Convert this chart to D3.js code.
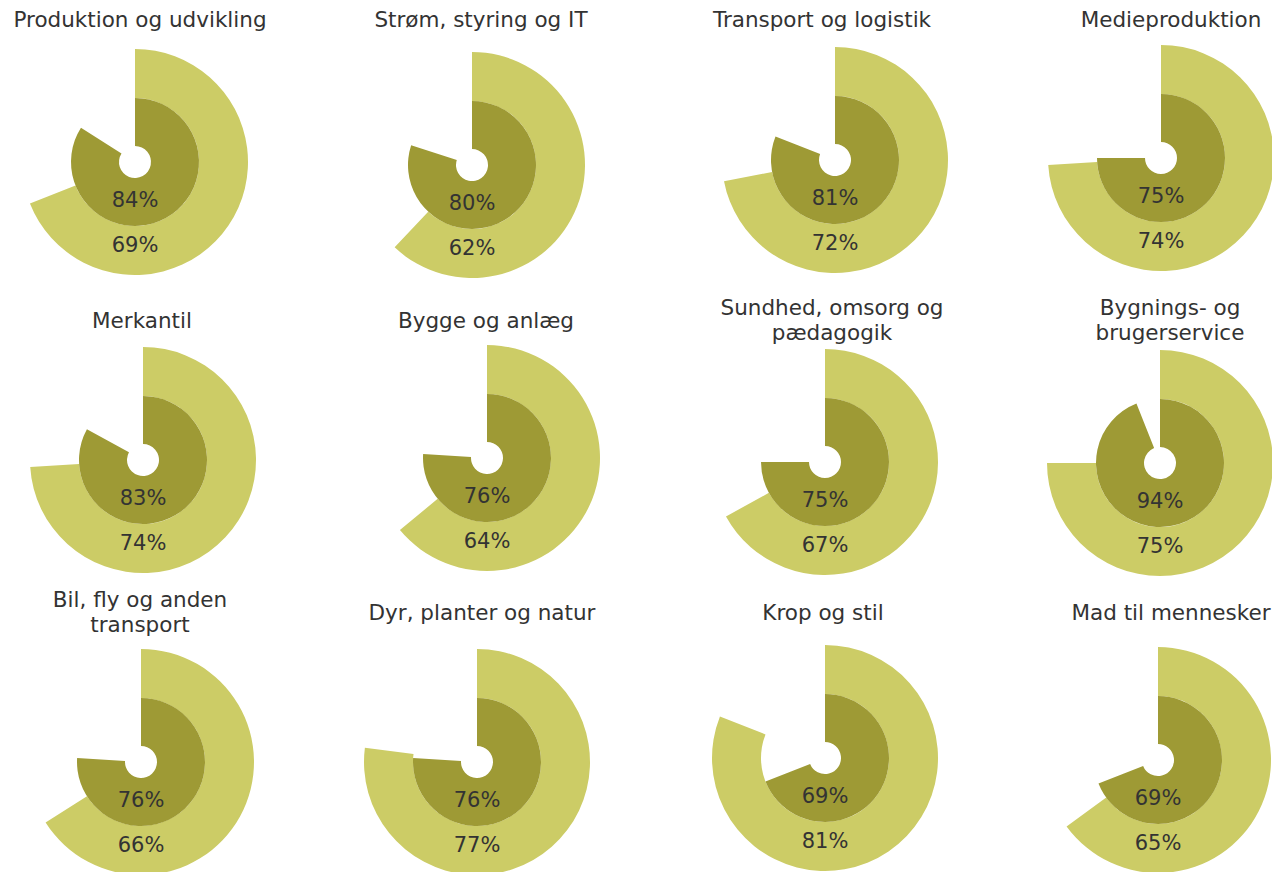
<!DOCTYPE html>
<html>
<head>
<meta charset="utf-8">
<script src="https://cdnjs.cloudflare.com/ajax/libs/d3/7.8.5/d3.min.js"></script>
<style>
  html, body { margin: 0; padding: 0; background: #fff; }
  svg { display: block; }
</style>
</head>
<body>
<div class="canvas"></div>
<script>
const dims = {width: 1272, height: 872};

// data
const categories = [
    ["Produktion og udvikling"],
    ["Strøm, styring og IT"],
    ["Transport og logistik"],
    ["Medieproduktion"],
    ["Merkantil"],
    ["Bygge og anlæg"],
    ["Sundhed, omsorg og", "pædagogik"],
    ["Bygnings- og", "brugerservice"],
    ["Bil, fly og anden", "transport"],
    ["Dyr, planter og natur"],
    ["Krop og stil"],
    ["Mad til mennesker"]
];
const innerValues = [84, 80, 81, 75, 83, 76, 75, 94, 76, 76, 69, 69];
const outerValues = [69, 62, 72, 74, 74, 64, 67, 75, 66, 77, 81, 65];

// layout (one centre per small multiple, title x and baseline)
const centers = [
    [135, 162], [472, 165], [835, 160], [1161, 158],
    [143, 460], [487, 458], [825, 462], [1160, 463],
    [141, 762], [477, 762], [825, 758], [1158, 760]
];
const titleX = [140, 481, 822, 1171, 142, 486, 832, 1170, 140, 482, 823, 1171];
const titleBase = [27, 27, 27, 27, 328, 328, 328, 328, 620, 620, 620, 620];

const colors = {outer: "#cccc66", inner: "#9e9a35", text: "#333333"};
const radii = {hole: 16, mid: 64, outer: 113};

const svg = d3.select(".canvas").append("svg")
    .attr("width", dims.width)
    .attr("height", dims.height);

// percentage -> angle, clockwise from 12 o'clock
const angle = d3.scaleLinear().domain([0, 100]).range([0, 2 * Math.PI]);

const innerArc = d3.arc()
    .innerRadius(radii.hole)
    .outerRadius(radii.mid)
    .startAngle(0)
    .endAngle(d => angle(d));

const outerArc = d3.arc()
    .innerRadius(radii.mid)
    .outerRadius(radii.outer)
    .startAngle(0)
    .endAngle(d => angle(d));

const panels = categories.map((c, i) => ({
    title: c, inner: innerValues[i], outer: outerValues[i],
    cx: centers[i][0], cy: centers[i][1], tx: titleX[i], ty: titleBase[i]
}));

const panel = svg.selectAll(".panel")
    .data(panels)
    .enter().append("g")
    .attr("class", "panel");

const chart = panel.append("g")
    .attr("transform", d => `translate(${d.cx}, ${d.cy})`);

chart.append("path")
    .attr("fill", colors.outer)
    .attr("d", d => outerArc(d.outer));

chart.append("path")
    .attr("fill", colors.inner)
    .attr("d", d => innerArc(d.inner));

// labels sit straight below the centre
chart.append("text")
    .attr("text-anchor", "middle")
    .attr("dominant-baseline", "central")
    .attr("y", 38)
    .attr("fill", colors.text)
    .style("font-family", "'DejaVu Sans', Verdana, sans-serif")
    .style("font-size", "21px")
    .text(d => d.inner + "%");

chart.append("text")
    .attr("text-anchor", "middle")
    .attr("dominant-baseline", "central")
    .attr("y", 83)
    .attr("fill", colors.text)
    .style("font-family", "'DejaVu Sans', Verdana, sans-serif")
    .style("font-size", "21px")
    .text(d => d.outer + "%");

// titles, two-line ones start one line higher
const title = panel.append("text")
    .attr("text-anchor", "middle")
    .attr("fill", colors.text)
    .style("font-family", "'DejaVu Sans', Verdana, sans-serif")
    .style("font-size", "21.5px");

title.selectAll("tspan")
    .data(d => d.title.map((line, j) => ({line, j, d})))
    .enter().append("tspan")
    .attr("x", t => t.d.tx)
    .attr("y", t => t.d.ty - (t.d.title.length - 1) * 13 + t.j * 25)
    .text(t => t.line);
</script>
</body>
</html>
